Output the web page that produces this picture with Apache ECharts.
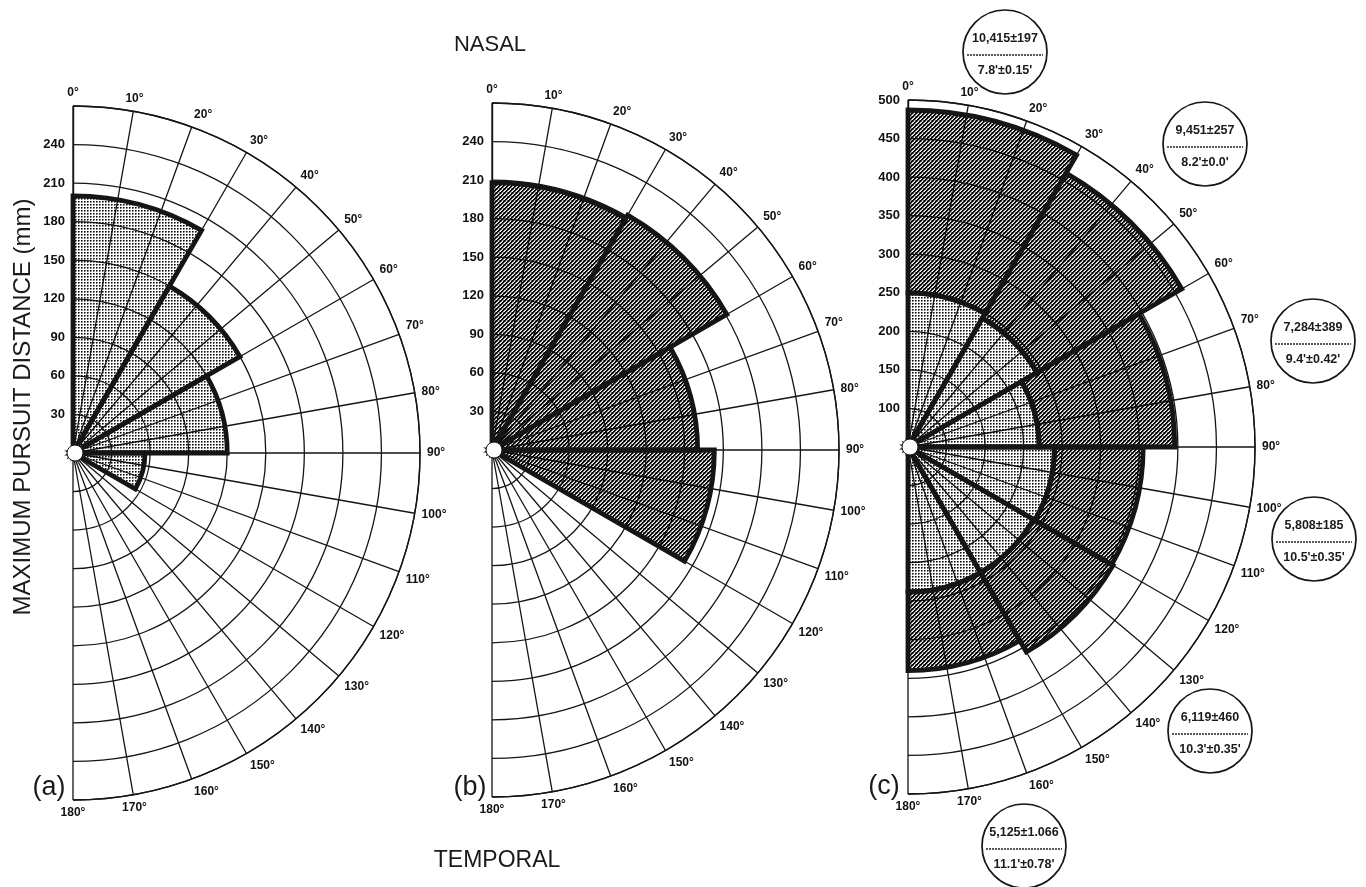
<!DOCTYPE html>
<html><head><meta charset="utf-8">
<script src="https://cdn.jsdelivr.net/npm/echarts@6/dist/echarts.min.js"></script>
<style>html,body{margin:0;padding:0;background:#fff}#chart{width:1366px;height:887px}</style>
</head><body><div id="chart"></div>
<script>
// ---- data ----
const wedgeStarts = [0, 30, 60, 90, 120, 150];
const wedgeWidth = 30;
const panelA = [200, 150, 120, 56, 0, 0];
const panelB = [208, 211, 160, 173, 0, 0];
const panelCInner = [250, 243, 220, 240, 238, 238];
const panelCOuter = [487, 460, 396, 355, 357, 340];
const angleLabels = [0, 10, 20, 30, 40, 50, 60, 70, 80, 90, 100, 110, 120, 130, 140, 150, 160, 170, 180];
const radiusLabelsAB = [30, 60, 90, 120, 150, 180, 210, 240];
const radiusLabelsC = [100, 150, 200, 250, 300, 350, 400, 450, 500];
const panelLetters = ['(a)', '(b)', '(c)'];
const annotTop = ['10,415±197', '9,451±257', '7,284±389', '5,808±185', '6,119±460', '5,125±1.066'];
const annotBottom = ["7.8'±0.15'", "8.2'±0.0'", "9.4'±0.42'", "10.5'±0.35'", "10.3'±0.35'", "11.1'±0.78'"];

// ---- layout ----
const FONT = '"Liberation Sans", Arial, sans-serif';
const polarLayout = [
  { center: [73, 453], radius: 347, min: 0, max: 270, interval: 30, labels: radiusLabelsAB },
  { center: [492, 450], radius: 347, min: 0, max: 270, interval: 30, labels: radiusLabelsAB },
  { center: [908, 447], radius: 347, min: 50, max: 500, interval: 50, labels: radiusLabelsC }
];
const letterPos = [[49, 788], [470, 788], [884, 787]];
const annotPos = [[1005, 52], [1205, 144], [1313, 341], [1314, 539], [1210, 731], [1024, 846]];

function makePattern(kind) {
  const c = document.createElement('canvas');
  const g = c.getContext('2d');
  if (kind === 'light') {
    c.width = 3; c.height = 3;
    g.fillStyle = 'rgba(0,0,0,0.95)'; g.fillRect(0, 0, 1, 1);
    g.fillStyle = 'rgba(0,0,0,0.6)'; g.fillRect(1, 0, 1, 1); g.fillRect(0, 1, 1, 1);
    g.fillStyle = 'rgba(0,0,0,0.25)'; g.fillRect(1, 1, 1, 1);
  } else {
    c.width = 4; c.height = 4;
    for (let y = 0; y < 4; y++) for (let x = 0; x < 4; x++) {
      const k = (x + y) % 4;
      let a = 0;
      if (k === 0) a = 1; else if (k === 1) a = 0.95; else if (k === 2) a = 0.3;
      if ((x + 2 * y) % 4 === 3) a = Math.max(a, 0.5);
      if (a > 0) { g.fillStyle = 'rgba(0,0,0,' + a + ')'; g.fillRect(x, y, 1, 1); }
    }
  }
  return { image: c, repeat: 'repeat' };
}
const lightFill = makePattern('light');
const darkFill = makePattern('dark');

function sectorRenderer(fill) {
  return function (params, api) {
    const a0 = api.value(0), a1 = api.value(1), v0 = api.value(2), v1 = api.value(3);
    if (!(v1 > v0)) return;
    const cs = params.coordSys;
    const p0 = api.coord([v1, a0]);
    const p1 = api.coord([v1, a1]);
    const pi = api.coord([v0, a0]);
    const r = Math.hypot(p0[0] - cs.cx, p0[1] - cs.cy);
    const r0 = Math.hypot(pi[0] - cs.cx, pi[1] - cs.cy);
    const sa = Math.atan2(p0[1] - cs.cy, p0[0] - cs.cx);
    let ea = Math.atan2(p1[1] - cs.cy, p1[0] - cs.cx);
    while (ea < sa) ea += 2 * Math.PI;
    return {
      type: 'sector',
      shape: { cx: cs.cx, cy: cs.cy, r0: r0, r: r, startAngle: sa, endAngle: ea, clockwise: true },
      style: { fill: fill, stroke: '#151515', lineWidth: 4.8, lineJoin: 'miter' }
    };
  };
}
function holeRenderer(params, api) {
  const cs = params.coordSys;
  return { type: 'circle', shape: { cx: cs.cx + 2, cy: cs.cy, r: 8 }, style: { fill: '#fff', stroke: '#151515', lineWidth: 1 }, z2: 50 };
}

const polar = [], angleAxis = [], radiusAxis = [], series = [];
polarLayout.forEach((p, i) => {
  polar.push({ center: p.center, radius: p.radius });
  angleAxis.push({
    polarIndex: i, type: 'value', min: 0, max: 180, interval: 10,
    startAngle: 90, endAngle: -90, clockwise: true,
    axisLine: { show: true, lineStyle: { color: '#151515', width: 1.4 } },
    axisTick: { show: false },
    splitLine: { show: true, lineStyle: { color: '#151515', width: 1.3 } },
    axisLabel: {
      show: true, margin: 7, color: '#111', fontSize: 12, fontWeight: 'bold', fontFamily: FONT,
      formatter: v => angleLabels.includes(v) ? v + '°' : ''
    }
  });
  radiusAxis.push({
    polarIndex: i, type: 'value', min: p.min, max: p.max, interval: p.interval,
    axisLine: { show: true, lineStyle: { color: '#151515', width: 1.4 } },
    axisTick: { show: false },
    splitLine: { show: true, lineStyle: { color: '#151515', width: 1.3 } },
    axisLabel: {
      show: true, margin: 8, color: '#111', fontSize: 13, fontWeight: 'bold', fontFamily: FONT,
      formatter: v => p.labels.includes(v) ? String(v) : ''
    }
  });
});

function wedges(base, vals) {
  return wedgeStarts.map((a, k) => [a, a + wedgeWidth, Array.isArray(base) ? base[k] : base, vals[k]]);
}
series.push({ type: 'custom', coordinateSystem: 'polar', polarIndex: 0, renderItem: sectorRenderer(lightFill), data: wedges(0, panelA), z: 3, silent: true });
series.push({ type: 'custom', coordinateSystem: 'polar', polarIndex: 1, renderItem: sectorRenderer(darkFill), data: wedges(0, panelB), z: 3, silent: true });
series.push({ type: 'custom', coordinateSystem: 'polar', polarIndex: 2, renderItem: sectorRenderer(lightFill), data: wedges(50, panelCInner), z: 3, silent: true });
series.push({ type: 'custom', coordinateSystem: 'polar', polarIndex: 2, renderItem: sectorRenderer(darkFill), data: wedges(panelCInner, panelCOuter), z: 3, silent: true });
[0, 1, 2].forEach(i => series.push({ type: 'custom', coordinateSystem: 'polar', polarIndex: i, renderItem: holeRenderer, data: [[0, 0]], z: 5, silent: true }));

const graphic = [];
function txt(x, y, t, font, extra) {
  return Object.assign({ type: 'text', x: x, y: y, style: { text: t, font: font, fill: '#1a1a1a', align: 'center', verticalAlign: 'middle', textAlign: 'center', textVerticalAlign: 'middle' } }, extra || {});
}
graphic.push(txt(490, 45, 'NASAL', '22px ' + FONT));
graphic.push(txt(497, 861, 'TEMPORAL', '23px ' + FONT));
graphic.push(txt(23, 407, 'MAXIMUM PURSUIT DISTANCE (mm)', '24px ' + FONT, { rotation: Math.PI / 2 }));
panelLetters.forEach((t, i) => graphic.push(txt(letterPos[i][0], letterPos[i][1], t, '27px ' + FONT)));
annotTop.forEach((t, i) => {
  const [cx, cy] = annotPos[i];
  graphic.push({ type: 'circle', shape: { cx: cx, cy: cy, r: 42 }, style: { fill: '#fff', stroke: '#151515', lineWidth: 1.7 }, z: 20 });
  graphic.push(txt(cx, cy - 13, t, 'bold 12.5px ' + FONT, { z: 21 }));
  graphic.push({ type: 'line', shape: { x1: cx - 38, y1: cy + 3, x2: cx + 38, y2: cy + 3 }, style: { stroke: '#222', lineWidth: 1.3, lineDash: [2, 1] }, z: 21 });
  graphic.push(txt(cx, cy + 19, annotBottom[i], 'bold 12.5px ' + FONT, { z: 21 }));
});

const chart = echarts.init(document.getElementById('chart'), null, { renderer: 'canvas' });
chart.setOption({
  backgroundColor: '#fff',
  animation: false,
  polar: polar,
  angleAxis: angleAxis,
  radiusAxis: radiusAxis,
  series: series,
  graphic: graphic
});
</script></body></html>
